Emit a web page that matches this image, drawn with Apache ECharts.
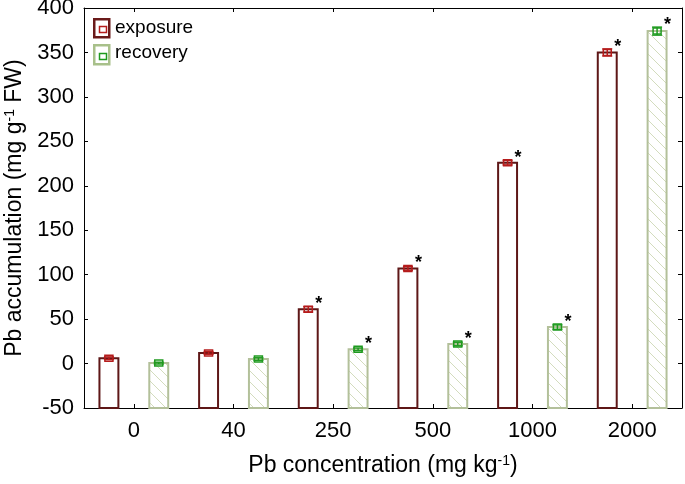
<!DOCTYPE html>
<html>
<head>
<meta charset="utf-8">
<script src="https://cdn.jsdelivr.net/npm/echarts@6/dist/echarts.min.js"></script>
<style>html,body{margin:0;padding:0;background:#fff}#c{width:685px;height:484px}</style>
</head>
<body>
<div id="c"></div>
<script>
const categories = ['0', '40', '250', '500', '1000', '2000'];
const exposure = [6, 12, 61, 107, 226, 350];
const exposureErr = [1.5, 1.5, 3, 2, 2.5, 4];
const recovery = [0.5, 5, 16, 22, 41, 374];
const recoveryErr = [1, 1.5, 1.5, 2, 2.5, 4.5];
const significant = [0, 0, 1, 1, 1, 1];
const yTicks = { min: -50, max: 400, interval: 50 };

const FONT = "'Liberation Sans', Arial, sans-serif";

function makeHatch() {
  const c = document.createElement('canvas');
  c.width = 11; c.height = 11;
  const g = c.getContext('2d');
  g.fillStyle = '#ffffff';
  g.fillRect(0, 0, 11, 11);
  g.strokeStyle = '#d3dcbd';
  g.lineWidth = 1;
  g.beginPath();
  g.moveTo(-1, -1); g.lineTo(12, 12);
  g.moveTo(-1, 10); g.lineTo(1, 12);
  g.moveTo(10, -1); g.lineTo(12, 1);
  g.stroke();
  return c;
}
const hatch = makeHatch();

function makeRender(offset, fill, stroke, markerColor) {
  return function (params, api) {
    const cat = api.value(0), v = api.value(1), e = api.value(2), star = api.value(3);
    const band = api.size([1, 0])[0];
    const top = api.coord([cat, v]);
    const base = api.coord([cat, yTicks.min]);
    const cx = top[0] + offset * band;
    const bw = band * 0.19;
    const hi = api.coord([cat, v + e])[1];
    const lo = api.coord([cat, v - e])[1];
    const children = [
      { type: 'rect', shape: { x: cx - bw / 2, y: top[1], width: bw, height: base[1] - top[1] },
        style: { fill: fill, stroke: stroke, lineWidth: 2 } },
      { type: 'line', shape: { x1: cx, y1: hi, x2: cx, y2: lo }, style: { stroke: markerColor, lineWidth: 1.5 } },
      { type: 'line', shape: { x1: cx - 5, y1: hi, x2: cx + 5, y2: hi }, style: { stroke: markerColor, lineWidth: 1.5 } },
      { type: 'line', shape: { x1: cx - 5, y1: lo, x2: cx + 5, y2: lo }, style: { stroke: markerColor, lineWidth: 1.5 } },
      { type: 'rect', shape: { x: cx - 4, y: top[1] - 3, width: 8, height: 6 },
        style: { fill: 'none', stroke: markerColor, lineWidth: 1.5 } }
    ];
    if (star) {
      children.push({ type: 'text', style: { text: '*', x: cx + bw / 2 + 1, y: Math.min(hi, top[1] - 3) - 2,
        fill: '#000', font: 'bold 18px ' + FONT, align: 'center', verticalAlign: 'middle' } });
    }
    return { type: 'group', children: children };
  };
}

const expData = categories.map((c, i) => [i, exposure[i], exposureErr[i], significant[i]]);
const recData = categories.map((c, i) => [i, recovery[i], recoveryErr[i], significant[i]]);

const chart = echarts.init(document.getElementById('c'), null, { renderer: 'canvas' });
const tickStyle = { show: true, inside: true, length: 4, lineStyle: { color: '#000', width: 1 } };
const supRich = { sup: { fontSize: 14, verticalAlign: 'top', padding: [0, 0, 9, 0], fontFamily: FONT, color: '#000' } };
chart.setOption({
  animation: false,
  backgroundColor: '#fff',
  textStyle: { fontFamily: FONT },
  grid: { left: 84, right: 3, top: 8, bottom: 76, containLabel: false, outerBoundsMode: 'none' },
  xAxis: [{
    type: 'category', data: categories, boundaryGap: true,
    axisLine: { onZero: false, lineStyle: { color: '#000', width: 1 } },
    axisTick: Object.assign({ alignWithLabel: true }, tickStyle),
    axisLabel: { color: '#000', fontSize: 22, margin: 12, fontFamily: FONT },
    name: 'Pb concentration (mg kg{sup|-1})',
    nameLocation: 'middle', nameGap: 46,
    nameTextStyle: { color: '#000', fontSize: 23, fontFamily: FONT, rich: supRich }
  }, {
    type: 'category', data: categories, position: 'top', boundaryGap: true,
    axisLine: { onZero: false, lineStyle: { color: '#000', width: 1 } },
    axisTick: Object.assign({ alignWithLabel: true }, tickStyle),
    axisLabel: { show: false }
  }],
  yAxis: [{
    type: 'value', min: yTicks.min, max: yTicks.max, interval: yTicks.interval,
    axisLine: { show: true, onZero: false, lineStyle: { color: '#000', width: 1 } },
    axisTick: tickStyle,
    splitLine: { show: false },
    axisLabel: { color: '#000', fontSize: 22, margin: 10, fontFamily: FONT },
    name: 'Pb accumulation (mg g{sup|-1} FW)',
    nameLocation: 'middle', nameGap: 55, nameRotate: 90,
    nameTextStyle: { color: '#000', fontSize: 23, fontFamily: FONT, rich: supRich }
  }, {
    type: 'value', min: yTicks.min, max: yTicks.max, interval: yTicks.interval, position: 'right',
    axisLine: { show: true, onZero: false, lineStyle: { color: '#000', width: 1 } },
    axisTick: tickStyle, splitLine: { show: false }, axisLabel: { show: false }
  }],
  series: [{
    name: 'exposure', type: 'custom', renderItem: makeRender(-0.25, '#ffffff', '#5e1717', '#b51c1c'),
    data: expData, encode: { x: 0, y: 1 }, clip: false
  }, {
    name: 'recovery', type: 'custom', renderItem: makeRender(0.25, { image: hatch, repeat: 'repeat' }, '#b3c09a', '#1f9a1f'),
    data: recData, encode: { x: 0, y: 1 }, clip: false
  }],
  graphic: [
    { type: 'rect', left: 93, top: 18, shape: { width: 15, height: 18 }, style: { fill: '#fff', stroke: '#6a1a1a', lineWidth: 2.5 } },
    { type: 'rect', left: 97, top: 24, shape: { width: 7, height: 6 }, style: { fill: 'none', stroke: '#b51c1c', lineWidth: 1.5 } },
    { type: 'text', x: 115, y: 28, style: { text: 'exposure', fill: '#000', font: '19px ' + FONT, verticalAlign: 'middle' } },
    { type: 'rect', left: 93, top: 44, shape: { width: 15, height: 19 }, style: { fill: '#fff', stroke: '#a8c08a', lineWidth: 2.5 } },
    { type: 'rect', left: 97, top: 51, shape: { width: 7, height: 6 }, style: { fill: 'none', stroke: '#1f9a1f', lineWidth: 1.5 } },
    { type: 'text', x: 115, y: 53, style: { text: 'recovery', fill: '#000', font: '19px ' + FONT, verticalAlign: 'middle' } }
  ]
});
</script>
</body>
</html>
